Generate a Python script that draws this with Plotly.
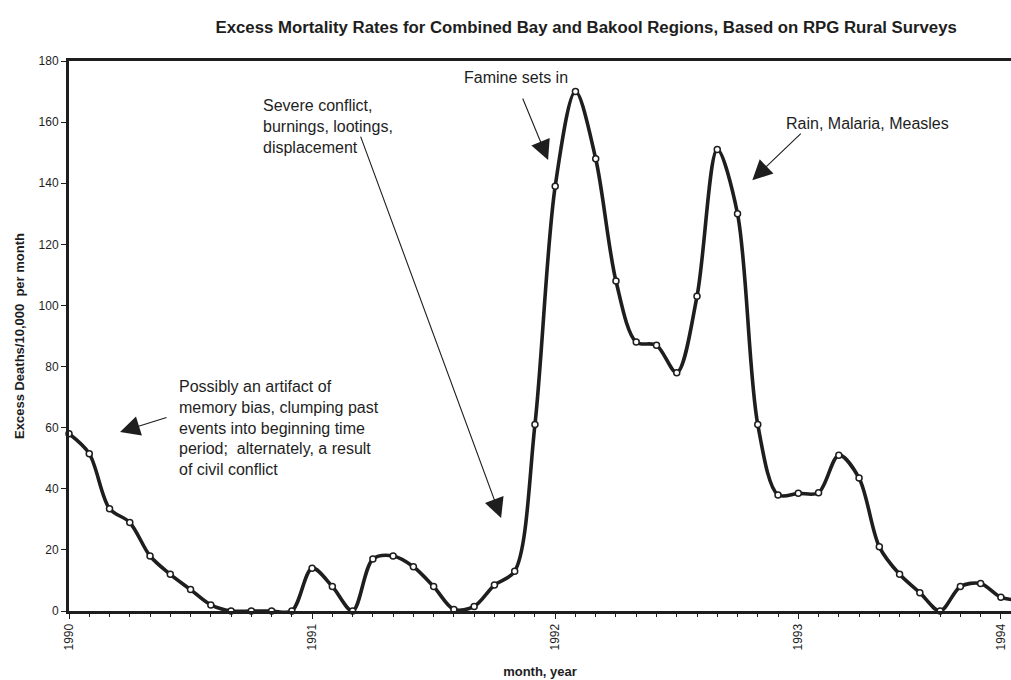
import plotly.graph_objects as go

# ---- data ----
month_index = list(range(48))
excess_deaths = [58, 51.5, 33.5, 29, 18, 12, 7, 2, 0, 0, 0, 0,
                 14, 8, 0, 17, 18, 14.5, 8, 0.5, 1.5, 8.5, 13, 61,
                 139, 170, 148, 108, 88, 87, 78, 103, 151, 130, 61, 38,
                 38.5, 38.7, 51, 43.5, 21, 12, 6, 0, 8, 9, 4.5, 3.5]
year_tick_pos = [0, 12, 24, 36, 46]
year_tick_text = ["1990", "1991", "1992", "1993", "1994"]
y_ticks = [0, 20, 40, 60, 80, 100, 120, 140, 160, 180]

title_text = "Excess Mortality Rates for Combined Bay and Bakool Regions, Based on RPG Rural Surveys"
notes = [
    # text, text x, text y, anchor y, tip x, tip y, tail dx, tail dy (pixels)
    ("Famine sets in", 19.4, 174.7, "middle", 23.65, 147.6, -26, -63),
    ("Severe conflict,<br>burnings, lootings,<br>displacement", 9.5, 169, "top", 21.33, 30.4, -141, -383),
    ("Rain, Malaria, Measles", 35.3, 159.7, "middle", 33.73, 141.0, 50, -48),
    ("Possibly an artifact of<br>memory bias, clumping past<br>events into beginning time<br>period;  alternately, a result<br>of civil conflict",
     5.35, 77, "top", 2.52, 58.6, 48, -15),
]

FONT = "Liberation Sans, Arial, sans-serif"
INK = "#1e1e1e"

fig = go.Figure()
fig.add_trace(go.Scatter(
    x=month_index, y=excess_deaths, mode="lines+markers",
    line=dict(color=INK, width=3.6, shape="spline", smoothing=0.9),
    marker=dict(symbol="circle", size=6, color="white", line=dict(color=INK, width=1.5)),
    cliponaxis=False, showlegend=False,
))

for text, tx, ty, yanc, px, py, dx, dy in notes:
    fig.add_annotation(x=tx, y=ty, xref="x", yref="y", text=text, showarrow=False,
                       xanchor="left", yanchor=yanc, align="left",
                       font=dict(family=FONT, size=16, color=INK))
    fig.add_annotation(x=px, y=py, xref="x", yref="y", text="", showarrow=True,
                       ax=dx, ay=dy, arrowhead=2, arrowsize=3.6, arrowwidth=1.1,
                       arrowcolor=INK)

fig.update_layout(
    width=1011, height=680,
    margin=dict(l=69, r=0, t=61, b=69),
    paper_bgcolor="white", plot_bgcolor="white",
    title=dict(text="<b>" + title_text + "</b>", x=0.549, xanchor="center",
               y=1 - 27 / 680, yanchor="middle", xref="paper",
               font=dict(family=FONT, size=16.8, color=INK)),
    font=dict(family=FONT, color=INK),
)
fig.update_xaxes(
    range=[0, 46.5], showgrid=False, zeroline=False,
    showline=True, linecolor=INK, linewidth=3, mirror=True,
    tickmode="array", tickvals=year_tick_pos, ticktext=year_tick_text,
    tickangle=-90, ticks="outside", ticklen=5, tickcolor=INK,
    minor=dict(dtick=1, ticks="outside", ticklen=3, tickcolor=INK),
    tickfont=dict(family=FONT, size=12, color=INK),
    title=dict(text="<b>month, year</b>", font=dict(family=FONT, size=13, color=INK), standoff=18),
)
fig.update_yaxes(
    range=[0, 180], showgrid=False, zeroline=False,
    showline=True, linecolor=INK, linewidth=3,
    tickmode="array", tickvals=y_ticks,
    ticks="outside", ticklen=5, tickcolor=INK,
    tickfont=dict(family=FONT, size=12, color=INK),
    title=dict(text="<b>Excess Deaths/10,000  per month</b>", font=dict(family=FONT, size=13, color=INK), standoff=12),
)

fig.write_html("out.html", config={"displayModeBar": False},
               post_script="document.body.style.margin='0';document.body.style.overflow='hidden';")
